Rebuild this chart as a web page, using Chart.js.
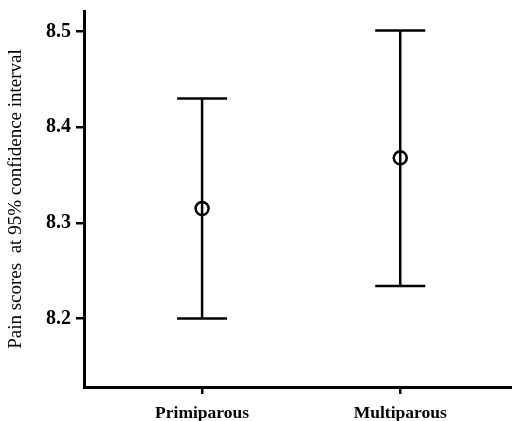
<!DOCTYPE html>
<html>
<head>
<meta charset="utf-8">
<script src="https://cdn.jsdelivr.net/npm/chart.js@4"></script>
<style>
html,body{margin:0;padding:0;background:#fff;}
canvas{display:block;}
</style>
</head>
<body>
<canvas id="c" width="512" height="421"></canvas>
<script>
const categories = ['Primiparous', 'Multiparous'];
const means = [8.315, 8.368];
const lowerCI = [8.200, 8.234];
const upperCI = [8.430, 8.501];
const yTicks = [8.2, 8.3, 8.4, 8.5];
const yTitle = 'Pain scores  at 95% confidence interval';

const errorBars = {
  id: 'errorBars',
  beforeDatasetsDraw(chart) {
    const ctx = chart.ctx, xs = chart.scales.x, ys = chart.scales.y;
    ctx.save();
    ctx.strokeStyle = '#000';
    ctx.lineWidth = 2.5;
    const cap = 25;
    categories.forEach((c, i) => {
      const x = xs.getPixelForValue(i + 1);
      const yl = ys.getPixelForValue(lowerCI[i]);
      const yu = ys.getPixelForValue(upperCI[i]);
      ctx.beginPath();
      ctx.moveTo(x, yl); ctx.lineTo(x, yu);
      ctx.moveTo(x - cap, yl); ctx.lineTo(x + cap, yl);
      ctx.moveTo(x - cap, yu); ctx.lineTo(x + cap, yu);
      ctx.stroke();
    });
    ctx.restore();
  }
};

new Chart(document.getElementById('c'), {
  type: 'scatter',
  data: {
    datasets: [{
      data: means.map((m, i) => ({x: i + 1, y: m})),
      pointRadius: 6.5,
      pointHoverRadius: 6.5,
      pointBorderWidth: 2.5,
      pointBackgroundColor: 'rgba(0,0,0,0)',
      pointBorderColor: '#000',
      clip: false
    }]
  },
  options: {
    responsive: false,
    animation: false,
    events: [],
    layout: {autoPadding: false, padding: {top: 11, right: 0, left: 0, bottom: 0}},
    plugins: {legend: {display: false}, tooltip: {enabled: false}},
    scales: {
      x: {
        type: 'linear',
        min: 0.404,
        max: 2.564,
        afterBuildTicks: s => { s.ticks = categories.map((c, i) => ({value: i + 1})); },
        afterFit: s => { s.height = 34; s.paddingLeft = 0; s.paddingRight = 0; },
        ticks: {
          callback: v => categories[v - 1],
          color: '#000',
          font: {family: 'Liberation Serif', size: 17.5, weight: 'bold'},
          padding: 9,
          maxRotation: 0
        },
        grid: {drawOnChartArea: false, drawTicks: true, tickLength: 7, color: '#000', lineWidth: 2.5},
        border: {display: true, color: '#000', width: 3}
      },
      y: {
        min: 8.1285,
        max: 8.5215,
        afterBuildTicks: s => { s.ticks = yTicks.map(v => ({value: v})); },
        afterFit: s => { s.width = 84; s.paddingTop = 0; s.paddingBottom = 0; },
        ticks: {
          callback: v => v.toFixed(1),
          color: '#000',
          font: {family: 'Liberation Serif', size: 20, weight: 'bold'},
          padding: 5
        },
        grid: {drawOnChartArea: false, drawTicks: true, tickLength: 8, color: '#000', lineWidth: 2.5},
        border: {display: true, color: '#000', width: 3},
        title: {
          display: true,
          text: yTitle,
          color: '#000',
          font: {family: 'Liberation Serif', size: 19, weight: 'normal'},
          padding: {top: 5, bottom: 0}
        }
      }
    }
  },
  plugins: [errorBars]
});
</script>
</body>
</html>
